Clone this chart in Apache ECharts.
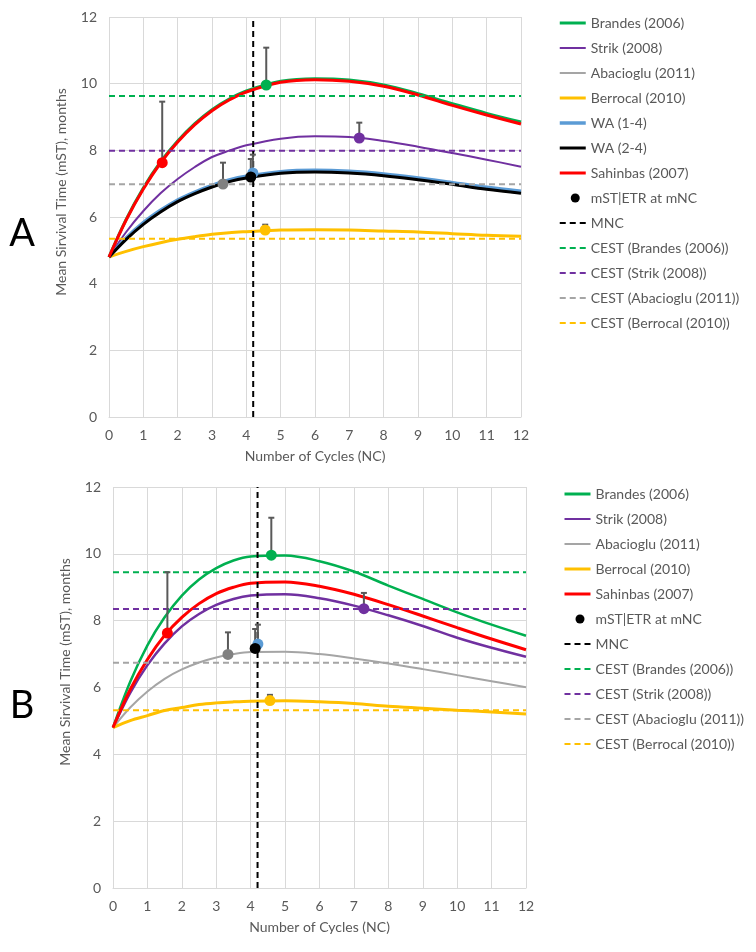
<!DOCTYPE html>
<html><head><meta charset="utf-8">
<script src="https://cdn.jsdelivr.net/npm/echarts@6/dist/echarts.min.js"></script>
<style>html,body{margin:0;padding:0;background:#fff}#c{width:756px;height:952px}</style>
</head><body><div id="c"></div>
<script>
// ---------- DATA ----------
const nc = [0,0.5,1,1.5,2,2.5,3,3.5,4,5,6,7,8,9,10,11,12];
const xTicks = [0,1,2,3,4,5,6,7,8,9,10,11,12];
const yTicks = [0,2,4,6,8,10,12];

// Panel A curves
const aBrandes  = [4.8,5.93,6.87,7.65,8.28,8.80,9.22,9.54,9.78,10.07,10.15,10.11,9.96,9.70,9.40,9.11,8.85];
const aStrik    = [4.8,5.55,6.18,6.71,7.14,7.50,7.80,7.99,8.15,8.35,8.42,8.40,8.28,8.11,7.92,7.72,7.51];
const aAbaciog  = [4.8,5.33,5.78,6.15,6.46,6.70,6.90,7.06,7.17,7.31,7.35,7.32,7.24,7.12,6.98,6.83,6.71];
const aBerrocal = [4.8,4.97,5.11,5.23,5.33,5.41,5.48,5.53,5.56,5.61,5.62,5.61,5.58,5.55,5.50,5.45,5.42];
const aWA14     = [4.8,5.37,5.83,6.20,6.51,6.75,6.95,7.11,7.22,7.36,7.40,7.37,7.29,7.17,7.03,6.89,6.77];
const aWA24     = [4.8,5.33,5.78,6.15,6.46,6.70,6.90,7.06,7.17,7.31,7.35,7.32,7.24,7.12,6.98,6.83,6.71];
const aSahinbas = [4.8,5.91,6.84,7.62,8.25,8.77,9.19,9.51,9.75,10.04,10.12,10.07,9.92,9.66,9.35,9.06,8.79];

// Panel B curves
const bBrandes  = [4.8,6.17,7.26,8.10,8.75,9.23,9.57,9.80,9.92,9.95,9.78,9.47,9.05,8.65,8.25,7.88,7.55];
const bStrik    = [4.8,5.84,6.67,7.32,7.83,8.20,8.47,8.65,8.75,8.79,8.67,8.45,8.16,7.84,7.49,7.19,6.92];
const bAbaciog  = [4.8,5.40,5.88,6.26,6.54,6.75,6.90,7.00,7.06,7.07,7.00,6.87,6.72,6.55,6.37,6.19,6.01];
const bBerrocal = [4.8,5.01,5.16,5.31,5.40,5.49,5.54,5.57,5.59,5.60,5.57,5.52,5.44,5.38,5.32,5.27,5.21];
const bSahinbas = [4.8,5.94,6.84,7.56,8.10,8.51,8.81,9.00,9.12,9.16,9.03,8.79,8.48,8.14,7.79,7.45,7.13];

// mST|ETR at mNC points (order: Sahinbas, Abacioglu, WA(1-4), WA(2-4), Berrocal, Brandes, Strik)
const ptColors = ['#FF0000','#808080','#5B9BD5','#000000','#FFC000','#00B050','#7030A0'];
const aPtX  = [1.55, 3.32, 4.19, 4.13, 4.55, 4.58, 7.29];
const aPtY  = [7.63, 6.99, 7.32, 7.20, 5.61, 9.96, 8.37];
const aErrHi= [9.46, 7.63, 7.87, 7.74, 5.77, 11.08, 8.83];
const bPtX  = [1.58, 3.34, 4.21, 4.13, 4.56, 4.60, 7.29];
const bPtY  = [7.63, 6.99, 7.30, 7.17, 5.61, 9.96, 8.36];
const bErrHi= [9.45, 7.65, 7.88, 7.75, 5.78, 11.08, 8.83];

// MNC and CEST
const mncA = 4.2, mncB = 4.2;
const cestNames = ['CEST (Brandes (2006))','CEST (Strik (2008))','CEST (Abacioglu (2011))','CEST (Berrocal (2010))'];
const cestColors = ['#00B050','#7030A0','#A5A5A5','#FFC000'];
const cestA = [9.63, 7.99, 6.98, 5.35];
const cestB = [9.45, 8.35, 6.74, 5.32];

// ---------- CHART ----------
const FONT = 'Lato';
const TXT = '#595959';
const GRIDC = '#D9D9D9';
const zip = (xs, ys) => xs.map((x,i)=>[x, ys[i]]);

function curve(name, ys, color, width, gi){
  return {type:'line', name, data: zip(nc, ys), xAxisIndex:gi, yAxisIndex:gi,
    smooth:0.35, symbol:'none', showSymbol:false, lineStyle:{color, width}, itemStyle:{color},
    emphasis:{disabled:true}, silent:true};
}
function hline(name, v, color, gi){
  return {type:'line', name, data:[[0,v],[12,v]], xAxisIndex:gi, yAxisIndex:gi,
    symbol:'none', lineStyle:{color, width:2, type:[6,4]}, itemStyle:{color}, silent:true};
}
function vline(name, v, gi){
  return {type:'line', name, data:[[v,0],[v,12]], xAxisIndex:gi, yAxisIndex:gi,
    symbol:'none', lineStyle:{color:'#000', width:2, type:[6,4]}, itemStyle:{color:'#000'}, silent:true, z:3};
}
function errBars(xs, ys, hi, gi){
  return {type:'custom', name:'err'+gi, xAxisIndex:gi, yAxisIndex:gi, coordinateSystem:'cartesian2d',
    data: xs.map((x,i)=>[x, ys[i], hi[i]]), encode:{x:0, y:[1,2]}, z:4, silent:true,
    renderItem(params, api){
      const p0 = api.coord([api.value(0), api.value(1)]);
      const p1 = api.coord([api.value(0), api.value(2)]);
      const st = {stroke:'#595959', lineWidth:2};
      return {type:'group', children:[
        {type:'line', shape:{x1:p0[0],y1:p0[1],x2:p1[0],y2:p1[1]}, style:st},
        {type:'line', shape:{x1:p1[0]-3,y1:p1[1],x2:p1[0]+3,y2:p1[1]}, style:st}
      ]};
    }};
}
function points(xs, ys, gi){
  return {type:'scatter', name:'mST|ETR at mNC', xAxisIndex:gi, yAxisIndex:gi, symbol:'circle', symbolSize:11,
    itemStyle:{color:'#000', opacity:1}, z:5, silent:true,
    data: xs.map((x,i)=>({value:[x, ys[i]], itemStyle:{color:ptColors[i]}}))};
}

const dotIcon = 'path://M0,0M26,0M26,14M0,14M11,7a4.5,4.5 0 1 0 9,0a4.5,4.5 0 1 0 -9,0z';

const series = [
  curve('Brandes (2006)', aBrandes, '#00B050', 3, 0),
  curve('Strik (2008)', aStrik, '#7030A0', 2, 0),
  curve('Abacioglu (2011)', aAbaciog, '#A5A5A5', 2, 0),
  curve('Berrocal (2010)', aBerrocal, '#FFC000', 3, 0),
  curve('WA (1-4)', aWA14, '#5B9BD5', 3.5, 0),
  curve('WA (2-4)', aWA24, '#000000', 3, 0),
  curve('Sahinbas (2007)', aSahinbas, '#FF0000', 3, 0),
  ...cestNames.map((n,i)=>hline(n, cestA[i], cestColors[i], 0)),
  vline('MNC', mncA, 0),
  errBars(aPtX, aPtY, aErrHi, 0),
  points(aPtX, aPtY, 0),

  curve('Brandes (2006)', bBrandes, '#00B050', 2.5, 1),
  curve('Strik (2008)', bStrik, '#7030A0', 2.5, 1),
  curve('Abacioglu (2011)', bAbaciog, '#A5A5A5', 2, 1),
  curve('Berrocal (2010)', bBerrocal, '#FFC000', 3, 1),
  curve('Sahinbas (2007)', bSahinbas, '#FF0000', 3, 1),
  ...cestNames.map((n,i)=>hline(n, cestB[i], cestColors[i], 1)),
  vline('MNC', mncB, 1),
  errBars(bPtX, bPtY, bErrHi, 1),
  points(bPtX, bPtY, 1)
];

function xAx(gi){
  return {type:'value', gridIndex:gi, min:xTicks[0], max:xTicks[xTicks.length-1], interval:1,
    name:'Number of Cycles (NC)', nameLocation:'middle', nameGap:32,
    nameTextStyle:{color:TXT, fontSize:14, fontFamily:FONT},
    axisLine:{lineStyle:{color:GRIDC, width:1}}, axisTick:{show:false},
    axisLabel:{color:TXT, fontSize:14, fontFamily:FONT, margin:11},
    splitLine:{show:true, lineStyle:{color:GRIDC, width:1}}};
}
function yAx(gi){
  return {type:'value', gridIndex:gi, min:yTicks[0], max:yTicks[yTicks.length-1], interval:2,
    axisLine:{show:false}, axisTick:{show:false},
    axisLabel:{color:TXT, fontSize:14, fontFamily:FONT, margin:12},
    splitLine:{show:true, lineStyle:{color:GRIDC, width:1}}};
}

const dotItem = {name:'mST|ETR at mNC', icon:dotIcon, itemStyle:{color:'#000', opacity:1, borderWidth:0}};
const legA = ['Brandes (2006)','Strik (2008)','Abacioglu (2011)','Berrocal (2010)','WA (1-4)','WA (2-4)','Sahinbas (2007)',
  dotItem, 'MNC', ...cestNames];
const legB = ['Brandes (2006)','Strik (2008)','Abacioglu (2011)','Berrocal (2010)','Sahinbas (2007)',
  dotItem, 'MNC', ...cestNames];

function leg(data, left, top){
  return {data, left, top, orient:'vertical', itemGap:11, itemWidth:26, itemHeight:14,
    selectedMode:false, padding:0,
    itemStyle:{opacity:0, borderWidth:0},
    lineStyle:{width:'inherit'},
    textStyle:{color:TXT, fontSize:14, fontFamily:FONT}};
}

const chart = echarts.init(document.getElementById('c'), null, {renderer:'canvas'});
chart.setOption({
  animation:false,
  backgroundColor:'#fff',
  textStyle:{fontFamily:FONT},
  grid:[{left:109, top:17, width:412, height:400}, {left:113, top:487, width:413, height:401}],
  xAxis:[xAx(0), xAx(1)],
  yAxis:[yAx(0), yAx(1)],
  legend:[leg(legA, 558, 16), leg(legB, 563, 487)],
  graphic:[
    {type:'text', x:61, y:192, rotation:Math.PI/2, style:{text:'Mean Sirvival Time (mST), months', fill:TXT, font:'14px Lato', textAlign:'center', textVerticalAlign:'middle'}},
    {type:'text', x:65, y:662, rotation:Math.PI/2, style:{text:'Mean Sirvival Time (mST), months', fill:TXT, font:'14px Lato', textAlign:'center', textVerticalAlign:'middle'}},
    {type:'text', x:22, y:234, style:{text:'A', fill:'#000', font:'38px Lato', textAlign:'center', textVerticalAlign:'middle'}},
    {type:'text', x:22, y:706, style:{text:'B', fill:'#000', font:'38px Lato', textAlign:'center', textVerticalAlign:'middle'}}
  ],
  series
});
</script></body></html>
